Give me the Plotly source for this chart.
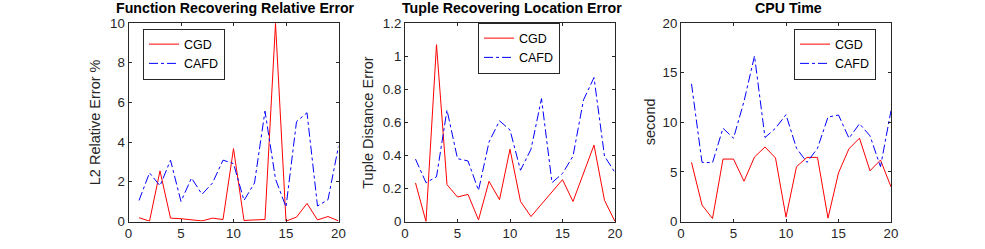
import plotly.graph_objects as go

x = list(range(1, 21))

# Panel 1: Function Recovering Relative Error (L2 Relative Error %)
fre_cgd = [0.19, 0.02, 2.55, 0.17, 0.14, 0.08, 0.03, 0.17, 0.10, 3.67,
           0.05, 0.08, 0.10, 9.98, 0.02, 0.22, 0.91, 0.08, 0.25, 0.03]
fre_cafd = [1.06, 2.45, 1.80, 3.09, 1.01, 2.19, 1.37, 1.94, 3.09, 2.92,
            1.06, 1.94, 5.56, 2.14, 0.73, 5.03, 5.48, 0.78, 1.10, 3.79]

# Panel 2: Tuple Recovering Location Error (Tuple Distance Error)
tle_cgd = [0.233, 0.0, 1.069, 0.223, 0.148, 0.164, 0.01, 0.243, 0.132, 0.437,
           0.121, 0.03, 0.105, 0.18, 0.253, 0.121, 0.29, 0.462, 0.128, 0.0]
tle_cafd = [0.377, 0.235, 0.27, 0.674, 0.38, 0.366, 0.188, 0.48, 0.609, 0.553,
            0.31, 0.437, 0.743, 0.235, 0.29, 0.395, 0.735, 0.87, 0.395, 0.296]

# Panel 3: CPU Time (second)
cpu_cgd = [5.96, 1.66, 0.30, 6.29, 6.29, 4.06, 6.50, 7.51, 6.40, 0.44,
           5.52, 6.46, 6.46, 0.34, 4.90, 7.34, 8.39, 5.11, 6.19, 3.49]
cpu_cafd = [13.87, 5.96, 5.92, 9.40, 8.39, 12.10, 16.68, 8.46, 9.40, 10.76,
            7.38, 5.96, 7.38, 10.52, 10.73, 8.39, 9.85, 8.63, 5.52, 11.17]

titles = ["Function Recovering Relative Error", "Tuple Recovering Location Error", "CPU Time"]
ylabels = ["L2 Relative Error %", "Tuple Distance Error", "second"]
yranges = [[0, 10], [0, 1.2], [0, 20]]
ydticks = [2, 0.2, 5]
xticks = [0, 5, 10, 15, 20]

W, H = 985, 249
FONT = "Liberation Sans, Arial, Helvetica, sans-serif"
AXC = "#262626"

left_px = [128.5, 405, 681]
plot_w = 210
top_px, bot_px = 23, 221.5
ytitle_px = [95, 368.5, 650]
legend_pos = [(143, 54), (478, 48), (794, 54)]  # left edge, vertical centre

series = [(fre_cgd, fre_cafd), (tle_cgd, tle_cafd), (cpu_cgd, cpu_cafd)]

fig = go.Figure()
annotations = []
for i in range(3):
    ax = "" if i == 0 else str(i + 1)
    lg = "legend" if i == 0 else f"legend{i + 1}"
    cgd, cafd = series[i]
    fig.add_trace(go.Scatter(x=x, y=cgd, mode="lines", name="CGD",
                             line=dict(color="#FF0000", width=1),
                             xaxis="x" + ax, yaxis="y" + ax, legend=lg))
    fig.add_trace(go.Scatter(x=x, y=cafd, mode="lines", name="CAFD",
                             line=dict(color="#0000FF", width=1, dash="dashdot"),
                             xaxis="x" + ax, yaxis="y" + ax, legend=lg))
    xd = [left_px[i] / W, (left_px[i] + plot_w) / W]
    yd = [1 - bot_px / H, 1 - top_px / H]
    axis_common = dict(showline=True, linecolor=AXC, linewidth=1, mirror="ticks",
                       ticks="inside", ticklen=3, tickcolor=AXC, tickwidth=1,
                       showgrid=False, zeroline=False, automargin=False,
                       tickfont=dict(family=FONT, size=13.3, color=AXC))
    fig.update_layout(**{
        "xaxis" + ax: dict(domain=xd, range=[0, 20], tickvals=xticks,
                           anchor="y" + ax, **axis_common),
        "yaxis" + ax: dict(domain=yd, range=yranges[i], dtick=ydticks[i], tick0=0,
                           anchor="x" + ax, **axis_common),
        lg: dict(x=legend_pos[i][0] / W, y=1 - legend_pos[i][1] / H,
                 xanchor="left", yanchor="middle", bgcolor="white",
                 bordercolor=AXC, borderwidth=1,
                 font=dict(family=FONT, size=12.5, color="black"),
                 tracegroupgap=0),
    })
    annotations.append(dict(text="<b>" + titles[i] + "</b>", xref="paper", yref="paper",
                            x=(left_px[i] + plot_w / 2 + 2) / W, y=1 - 8.5 / H,
                            xanchor="center", yanchor="middle", showarrow=False,
                            font=dict(family=FONT, size=14.2, color="black")))
    annotations.append(dict(text=ylabels[i], xref="paper", yref="paper",
                            x=ytitle_px[i] / W, y=1 - (top_px + bot_px) / 2 / H,
                            xanchor="center", yanchor="middle", textangle=-90,
                            showarrow=False,
                            font=dict(family=FONT, size=14.5, color=AXC)))

fig.update_layout(width=W, height=H, margin=dict(l=0, r=0, t=0, b=0, autoexpand=False),
                  paper_bgcolor="white", plot_bgcolor="white",
                  annotations=annotations, showlegend=True)

fig.write_html("out.html", config={"displayModeBar": False},
               post_script="document.body.style.margin='0';document.body.style.overflow='hidden';")
